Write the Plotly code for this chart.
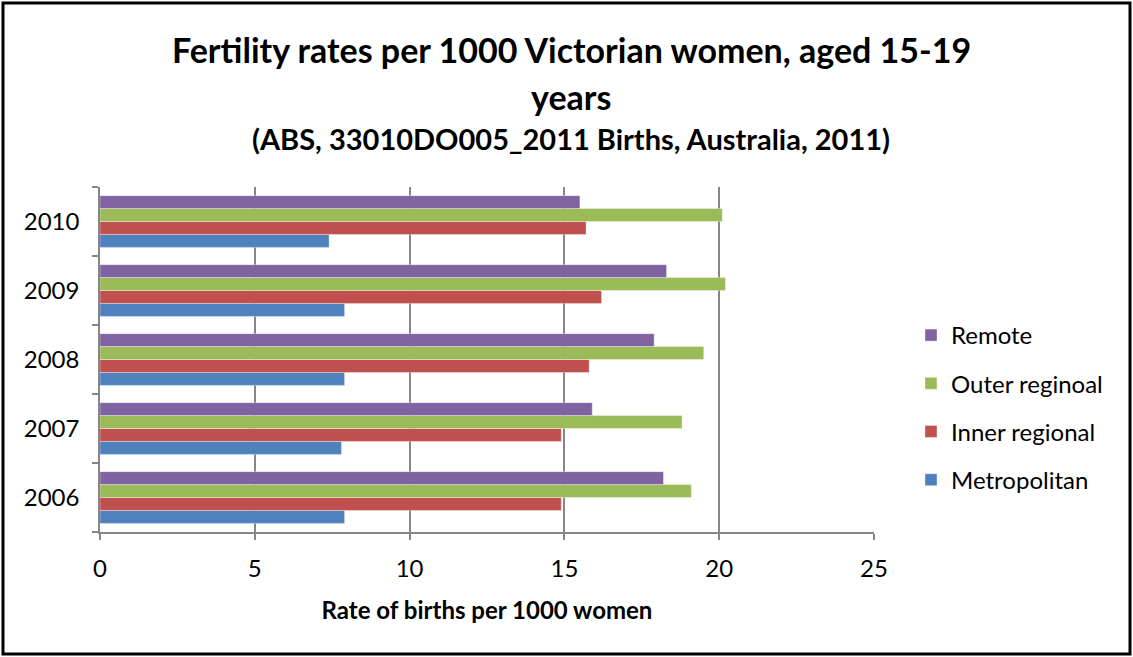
import plotly.graph_objects as go

years = ["2006", "2007", "2008", "2009", "2010"]
metropolitan = [7.9, 7.8, 7.9, 7.9, 7.4]
inner_regional = [14.9, 14.9, 15.8, 16.2, 15.7]
outer_regional = [19.1, 18.8, 19.5, 20.2, 20.1]
remote = [18.2, 15.9, 17.9, 18.3, 15.5]
series_names = ["Metropolitan", "Inner regional", "Outer reginoal", "Remote"]
series_colors = ["#4F81BD", "#C0504D", "#9BBB59", "#8064A2"]
x_ticks = [0, 5, 10, 15, 20, 25]

FONT = "Lato, 'Open Sans', sans-serif"

fig = go.Figure()
series_vals = [metropolitan, inner_regional, outer_regional, remote]
for i, (name, vals, col) in enumerate(zip(series_names, series_vals, series_colors)):
    fig.add_trace(go.Bar(
        y=years, x=vals, name=name, orientation="h", legendgroup=name,
        legendrank=1000 - i,
        marker=dict(color=col, line=dict(color="rgba(255,255,255,0.6)", width=0.6)),
    ))

L, R, T, B = 100, 259, 187, 125
W, H = 1133, 657
pw, ph = W - L - R, H - T - B

def px_x(p):
    return (p - L) / pw

def px_y(p):
    return (H - B - p) / ph

fig.update_layout(
    width=W, height=H,
    margin=dict(l=L, r=R, t=T, b=B),
    paper_bgcolor="white", plot_bgcolor="white",
    barmode="group", bargap=0.25, bargroupgap=0,
    font=dict(family=FONT, color="black", size=24),
    showlegend=True,
    legend=dict(
        traceorder="grouped",
        x=px_x(911), y=px_y(313), xanchor="left", yanchor="top",
        font=dict(size=24, family=FONT),
        itemwidth=30, tracegroupgap=14,
        bgcolor="rgba(0,0,0,0)",
    ),
    xaxis=dict(
        range=[0, 25], tickvals=x_ticks, ticktext=[str(v) for v in x_ticks],
        showgrid=True, gridcolor="#868686", gridwidth=1.5,
        showline=True, linecolor="#868686", linewidth=1.5,
        ticks="outside", ticklen=6, tickcolor="#868686", tickwidth=1.5,
        tickfont=dict(size=24, family=FONT), ticklabelstandoff=8,
        zeroline=False,
        title=dict(text="<b>Rate of births per 1000 women</b>", font=dict(size=24, family=FONT), standoff=22),
    ),
    yaxis=dict(
        type="category", categoryorder="array", categoryarray=years,
        showline=True, linecolor="#868686", linewidth=1.5,
        ticks="outside", tickson="boundaries", ticklen=6, tickcolor="#868686", tickwidth=1.5,
        tickfont=dict(size=24, family=FONT), ticklabelstandoff=14,
        showgrid=False,
    ),
    annotations=[
        dict(text="<b>Fertility rates per 1000 Victorian women, aged 15-19</b>", xref="paper", yref="paper",
             x=px_x(571), y=px_y(50), showarrow=False, font=dict(size=34, family=FONT), xanchor="center", yanchor="middle"),
        dict(text="<b>years</b>", xref="paper", yref="paper",
             x=px_x(571), y=px_y(97), showarrow=False, font=dict(size=34, family=FONT), xanchor="center", yanchor="middle"),
        dict(text="<b>(ABS, 33010DO005_2011 Births, Australia, 2011)</b>", xref="paper", yref="paper",
             x=px_x(571), y=px_y(138), showarrow=False, font=dict(size=29, family=FONT), xanchor="center", yanchor="middle"),
    ],
    shapes=[
        dict(type="rect", xref="paper", yref="paper",
             x0=px_x(3), x1=px_x(1130), y0=px_y(654), y1=px_y(3),
             line=dict(color="black", width=3), fillcolor="rgba(0,0,0,0)", layer="below"),
    ],
)

fig.write_html("out.html")
